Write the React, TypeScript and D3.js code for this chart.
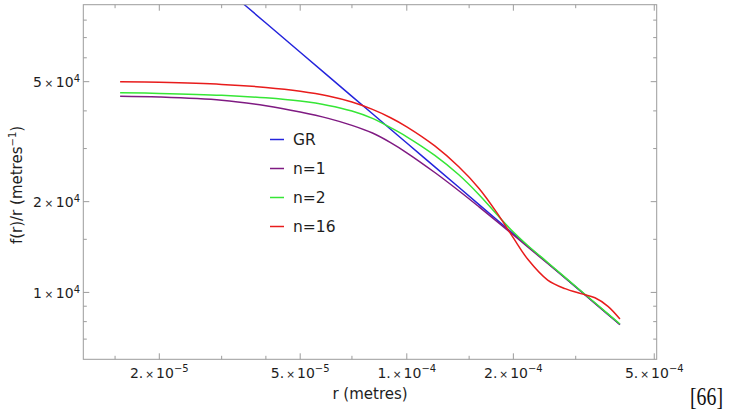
import React from "react";
import * as d3 from "d3";

// ---- data ----
const rGrid = [1.55e-5, 2e-5, 3e-5, 4e-5, 5e-5, 6e-5, 7e-5, 8e-5, 9e-5, 1e-4, 1.2e-4, 1.4e-4, 1.6e-4, 1.8e-4, 2e-4, 2.2e-4, 2.5e-4, 2.8e-4, 3.1e-4, 3.4e-4, 3.7e-4, 4e-4];
const n1Values = [44770, 44500, 43420, 41600, 39650, 37770, 35810, 33770, 31390, 29050, 24990, 21780, 19220, 17170, 15510, 14140, 12470, 11160, 10090, 9200, 8455, 7823];
const n2Values = [45950, 45720, 45070, 44180, 43100, 41710, 39950, 37770, 35190, 32820, 28470, 24600, 21090, 18090, 15860, 14280, 12570, 11220, 10130, 9240, 8490, 7855];
const n16Values = [50000, 49750, 48960, 47840, 46470, 44810, 42790, 40450, 37960, 35410, 30600, 26150, 22130, 18330, 15160, 12850, 10990, 10290, 9910, 9600, 8990, 8160];
const grR = [3e-5, 4e-5, 5e-5, 6e-5, 7e-5, 8e-5, 9e-5, 1e-4, 1.2e-4, 1.4e-4, 1.6e-4, 1.8e-4, 2e-4, 2.2e-4, 2.5e-4, 2.8e-4, 3.1e-4, 3.4e-4, 3.7e-4, 4e-4];
const grValues = [104300, 78250, 62600, 52170, 44710, 39130, 34780, 31300, 26080, 22360, 19560, 17390, 15650, 14230, 12520, 11180, 10100, 9206, 8459, 7825];

const seriesNames = ["GR", "n=1", "n=2", "n=16"];
const seriesColors = ["#2424dc", "#7f1a82", "#36e636", "#e81c1c"];

const xMajorTicks = [2e-5, 5e-5, 1e-4, 2e-4, 5e-4];
const xTickMantissa = ["2.", "5.", "1.", "2.", "5."];
const xTickExponent = ["\u22125", "\u22125", "\u22124", "\u22124", "\u22124"];
const xMinorTicks = [1.5e-5, 3e-5, 4e-5, 7e-5, 1.5e-4, 3e-4];

const yMajorTicks = [1e4, 2e4, 5e4];
const yTickMantissa = ["1", "2", "5"];
const yTickExponent = ["4", "4", "4"];
const yMinorTicks = [7000, 8000, 9000, 15000, 30000, 40000, 60000, 70000, 80000];

const xDomain = [1.22e-5, 5.08e-4];
const yDomain = [6000, 90000];

export default function App() {
  const W = 733, H = 412;
  const left = 83.3, right = 656.7, top = 4.7, bottom = 359.3;
  const x = d3.scaleLog().domain(xDomain).range([left, right]);
  const y = d3.scaleLog().domain(yDomain).range([bottom, top]);

  const line = d3
    .line<[number, number]>()
    .x((d) => x(d[0]))
    .y((d) => y(d[1]))
    .curve(d3.curveCatmullRom.alpha(0.5));

  const series: [number, number][][] = [
    grR.map((r, i) => [r, grValues[i]]),
    rGrid.map((r, i) => [r, n1Values[i]]),
    rGrid.map((r, i) => [r, n2Values[i]]),
    rGrid.map((r, i) => [r, n16Values[i]]),
  ];

  const frameColor = "#9c9c9c";
  const textColor = "#1e1e1e";
  const font = "'DejaVu Sans', Verdana, sans-serif";
  const majLen = 6, minLen = 3.5;

  return (
    <svg width={W} height={H} style={{ position: "absolute", left: 0, top: 0, background: "#fff" }} fontFamily={font}>
      <defs>
        <clipPath id="plotClip">
          <rect x={left} y={top} width={right - left} height={bottom - top} />
        </clipPath>
      </defs>
      {/* curves */}
      <g clipPath="url(#plotClip)">
        {series.map((s, i) => (
          <path key={i} d={line(s) || ""} fill="none" stroke={seriesColors[i]} strokeWidth={1.5} />
        ))}
      </g>
      {/* frame */}
      <rect x={left} y={top} width={right - left} height={bottom - top} fill="none" stroke={frameColor} strokeWidth={1} />
      {/* x ticks (bottom & top) */}
      {xMajorTicks.map((t, i) => (
        <g key={"xM" + i}>
          <line x1={x(t)} x2={x(t)} y1={bottom} y2={bottom - majLen} stroke={frameColor} />
          <line x1={x(t)} x2={x(t)} y1={top} y2={top + majLen} stroke={frameColor} />
          <text x={x(t)} y={378} textAnchor="middle" fontSize={14} fill={textColor}>
            <tspan>{xTickMantissa[i]}</tspan>
            <tspan fontSize={10.5} dx={2}>×</tspan>
            <tspan dx={2}>10</tspan>
            <tspan fontSize={10} dy={-6}>{xTickExponent[i]}</tspan>
          </text>
        </g>
      ))}
      {xMinorTicks.map((t, i) => (
        <g key={"xm" + i}>
          <line x1={x(t)} x2={x(t)} y1={bottom} y2={bottom - minLen} stroke={frameColor} />
          <line x1={x(t)} x2={x(t)} y1={top} y2={top + minLen} stroke={frameColor} />
        </g>
      ))}
      {/* y ticks (left & right) */}
      {yMajorTicks.map((t, i) => (
        <g key={"yM" + i}>
          <line x1={left} x2={left + majLen} y1={y(t)} y2={y(t)} stroke={frameColor} />
          <line x1={right} x2={right - majLen} y1={y(t)} y2={y(t)} stroke={frameColor} />
          <text x={80} y={y(t) + 5.5} textAnchor="end" fontSize={14} fill={textColor}>
            <tspan>{yTickMantissa[i]}</tspan>
            <tspan fontSize={10.5} dx={2.5}>×</tspan>
            <tspan dx={2.5}>10</tspan>
            <tspan fontSize={10} dy={-5}>{yTickExponent[i]}</tspan>
          </text>
        </g>
      ))}
      {yMinorTicks.map((t, i) => (
        <g key={"ym" + i}>
          <line x1={left} x2={left + minLen} y1={y(t)} y2={y(t)} stroke={frameColor} />
          <line x1={right} x2={right - minLen} y1={y(t)} y2={y(t)} stroke={frameColor} />
        </g>
      ))}
      {/* axis labels */}
      <text x={(left + right) / 2} y={399} textAnchor="middle" fontSize={15} fill={textColor}>
        r (metres)
      </text>
      <text transform={`translate(22, ${(top + bottom) / 2 + 3}) rotate(-90)`} textAnchor="middle" fontSize={15} fill={textColor}>
        <tspan>f(r)/r (metres</tspan>
        <tspan fontSize={10} dy={-6}>−1</tspan>
        <tspan dy={6}>)</tspan>
      </text>
      {/* legend */}
      {seriesNames.map((name, i) => (
        <g key={"lg" + i} transform={`translate(270, ${139.5 + i * 29})`}>
          <line x1={0} x2={14} y1={0} y2={0} stroke={seriesColors[i]} strokeWidth={1.5} />
          <text x={23} y={5.5} fontSize={15.5} fill={textColor}>
            {name}
          </text>
        </g>
      ))}
      {/* reference tag */}
      <text x={690} y={405} fontSize={25} fontFamily="'Liberation Serif', 'DejaVu Serif', serif" fill="#111" textLength={33} lengthAdjust="spacingAndGlyphs">
        [66]
      </text>
    </svg>
  );
}
